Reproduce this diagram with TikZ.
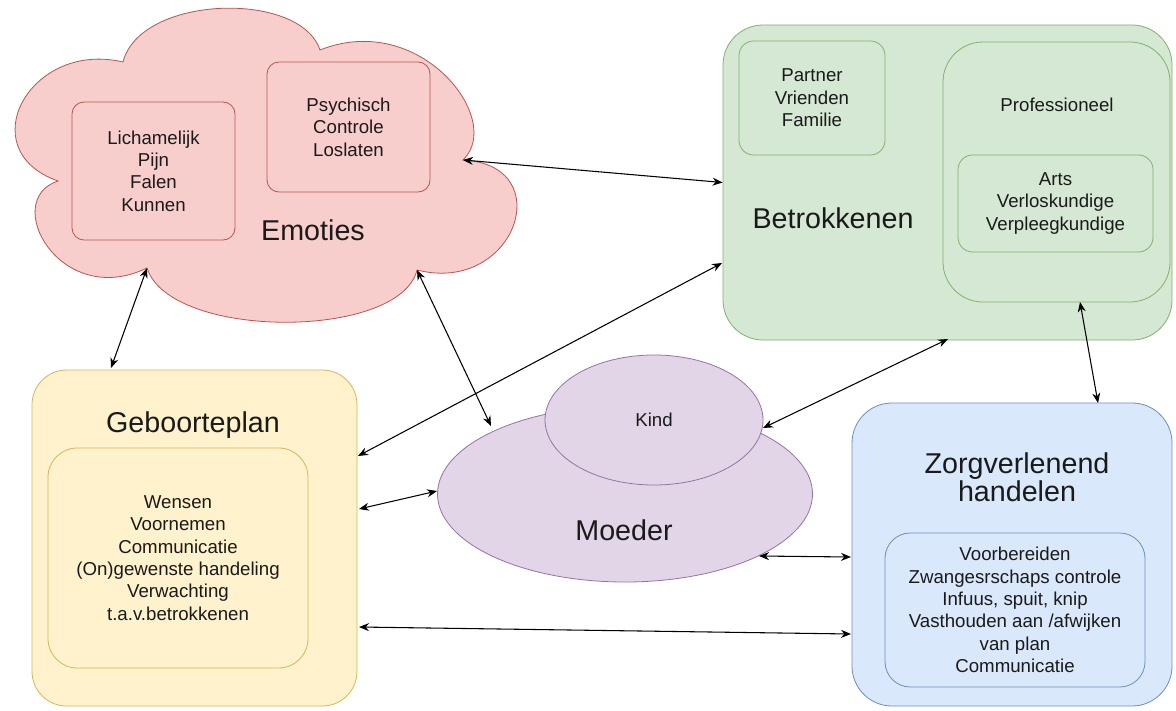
\documentclass[tikz,border=0pt]{standalone}
\usepackage{fontspec}
\setmainfont{Liberation Sans}
\usetikzlibrary{arrows.meta,shapes.geometric}
\definecolor{pinkF}{HTML}{F8CECC}\definecolor{pinkD}{HTML}{B85450}
\definecolor{greenF}{HTML}{D5E8D4}\definecolor{greenD}{HTML}{82B366}
\definecolor{yelF}{HTML}{FFF2CC}\definecolor{yelD}{HTML}{D6B656}
\definecolor{purF}{HTML}{E1D5E7}\definecolor{purD}{HTML}{9673A6}
\definecolor{bluF}{HTML}{DAE8FC}\definecolor{bluD}{HTML}{6C8EBF}
\definecolor{txt}{HTML}{1A1A1A}
\tikzset{
  box/.style={draw, rounded corners=#1, line width=0.6pt, align=center, inner sep=0pt, text=txt},
  oval/.style={draw, ellipse, line width=0.6pt, inner sep=0pt, text=txt},
  small/.style={font=\fontsize{14}{16.8}\selectfont, align=center, text=txt},
  big/.style={font=\fontsize{21.5}{21}\selectfont, align=center, text=txt},
  link/.style={line width=0.8pt, {Stealth[length=7.5pt,width=6pt]}-{Stealth[length=7.5pt,width=6pt]}},
}
\begin{document}
\begin{tikzpicture}[x=0.75pt,y=-0.75pt]
\useasboundingbox[fill=white] (0,0) rectangle (1176,710);

% Emoties cloud
\path[draw=pinkD, fill=pinkF, line width=0.6pt]
  (58,181) .. controls (0,200) and (60,310) .. (147,268)
  .. controls (170,340) and (400,340) .. (417,270)
  .. controls (515,295) and (560,165) .. (463,160)
  .. controls (505,120) and (420,10) .. (320,50)
  .. controls (300,-10) and (140,-5) .. (123,62)
  .. controls (30,40) and (-30,150) .. cycle;
\coordinate (eRight) at (463,160);
\coordinate (eBotL) at (147,268);
\coordinate (eBotR) at (417,270);
\node[box=9pt, fill=pinkF, draw=pinkD, minimum width=122.25pt, minimum height=103.5pt, small] (lich) at (153.5,171) {Lichamelijk\\Pijn\\Falen\\Kunnen};
\node[box=9pt, fill=pinkF, draw=pinkD, minimum width=122.25pt, minimum height=97.5pt, small] (psy) at (348.5,127) {Psychisch\\Controle\\Loslaten};
\node[big] (emo) at (313,230) {Emoties};

% Betrokkenen
\node[box=30pt, fill=greenF, draw=greenD, minimum width=336.75pt, minimum height=236.25pt] (bet) at (947.5,182.5) {};
\node[box=11pt, fill=greenF, draw=greenD, minimum width=109.5pt, minimum height=85.5pt, small] (partner) at (812,98) {Partner\\Vrienden\\Familie};
\node[box=30pt, fill=greenF, draw=greenD, minimum width=170.25pt, minimum height=195pt] (prof) at (1056.5,172) {};
\node[small] (proftxt) at (1057,105) {Professioneel};
\node[box=11pt, fill=greenF, draw=greenD, minimum width=146.25pt, minimum height=72.75pt, small] (arts) at (1055.5,203.5) {Arts\\Verloskundige\\Verpleegkundige};
\node[big] (bettxt) at (833,218) {Betrokkenen};

% Geboorteplan
\node[box=26pt, fill=yelF, draw=yelD, minimum width=243.75pt, minimum height=252pt] (geb) at (194.5,538) {};
\node[big] (gebtxt) at (193,425) {Geboorteplan};
\node[box=22pt, fill=yelF, draw=yelD, minimum width=195pt, minimum height=165pt, small] (gebin) at (178,558) {Wensen\\Voornemen\\Communicatie\\(On)gewenste handeling\\Verwachting\\t.a.v.betrokkenen};

% Moeder / Kind
\node[oval, fill=purF, draw=purD, minimum width=281.25pt, minimum height=132pt] (moeder) at (625,494) {};
\node[big] (moedtxt) at (624,530) {Moeder};
\node[oval, fill=purF, draw=purD, minimum width=163.5pt, minimum height=97.5pt, small] (kind) at (654,420) {Kind};

% Zorgverlenend handelen
\node[box=30pt, fill=bluF, draw=bluD, minimum width=240pt, minimum height=227.25pt] (zorg) at (1012,554.5) {};
\node[big] (zorgtxt) at (1017,477) {Zorgverlenend\\handelen};
\node[box=19pt, fill=bluF, draw=bluD, minimum width=195pt, minimum height=115.5pt, small] (zorgin) at (1015,610) {Voorbereiden\\Zwangesrschaps controle\\Infuus, spuit, knip\\Vasthouden aan /afwijken\\van plan\\Communicatie};

% connector end points
\coordinate (betW2) at (722,263);
\coordinate (gebE1) at (358,456);
\coordinate (gebE2) at (359,509);
\coordinate (moedW) at (437,491);
\coordinate (gebE3) at (359,627);
\coordinate (zorgW2) at (851,634);
\coordinate (zorgW1) at (851,557);
\coordinate (moedSE) at (759,556);
\coordinate (kindE) at (763,428);
\coordinate (betS) at (948,339);
\coordinate (profS) at (1080,302);
\coordinate (zorgN) at (1098,403);
\coordinate (gebN) at (111,368);
\coordinate (moedN) at (491,426);

% connectors
\draw[link] (eRight) -- (bet.west);
\draw[link] (eBotL) -- (gebN);
\draw[link] (eBotR) -- (moedN);
\draw[link] (betW2) -- (gebE1);
\draw[link] (gebE2) -- (moedW);
\draw[link] (kindE) -- (betS);
\draw[link] (profS) -- (zorgN);
\draw[link] (moedSE) -- (zorgW1);
\draw[link] (gebE3) -- (zorgW2);
\end{tikzpicture}
\end{document}
